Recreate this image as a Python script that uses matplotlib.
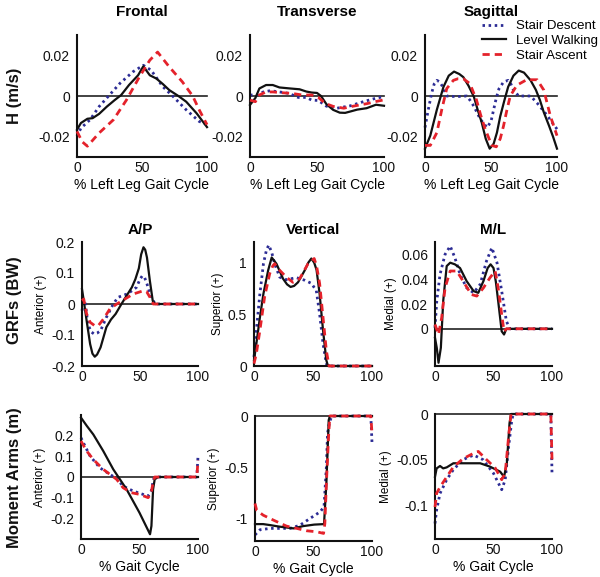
import matplotlib
matplotlib.use("Agg")
import matplotlib.pyplot as plt
from matplotlib.lines import Line2D

plt.rcParams['font.family'] = ['Liberation Sans', 'DejaVu Sans']
plt.rcParams['axes.unicode_minus'] = False

# ---------------- DATA ----------------
# Row 1: H (m/s)
FR_x_desc = [0, 3, 10, 17, 25, 33, 43, 51, 57, 66, 74, 84, 94, 100]
FR_desc = [-0.0198, -0.0158, -0.0117, -0.0052, 0.0005, 0.0062, 0.0119, 0.0151, 0.0127, 0.0046, -0.0003, -0.0068, -0.0125, -0.0141]
FR_x_walk = [0, 3, 8, 12, 17, 23, 29, 34, 40, 47, 51, 56, 61, 66, 71, 78, 84, 92, 100]
FR_walk = [-0.0166, -0.0133, -0.0112, -0.0109, -0.0088, -0.0052, -0.002, 0.0005, 0.0054, 0.0102, 0.0146, 0.0102, 0.0086, 0.0059, 0.0029, 0.0, -0.0028, -0.0085, -0.0153]
FR_x_asc = [0, 4, 8, 17, 28, 38, 48, 56, 62, 71, 81, 89, 94, 100]
FR_asc = [-0.0174, -0.0225, -0.0247, -0.0182, -0.0117, -0.002, 0.0094, 0.0176, 0.0216, 0.0143, 0.007, 0.0, -0.0068, -0.0141]

TR_x_desc = [0, 5, 10, 15, 22, 29, 36, 42, 46, 51, 57, 65, 75, 85, 94, 100]
TR_desc = [0.0005, 0.0005, 0.002, 0.0026, 0.002, 0.0013, -0.0007, -0.0007, -0.002, -0.0022, -0.005, -0.006, -0.0048, -0.0027, -0.0011, -0.0003]
TR_x_walk = [0, 4, 7, 12, 17, 22, 30, 37, 42, 46, 50, 53, 57, 62, 67, 71, 75, 80, 87, 94, 100]
TR_walk = [-0.0044, -0.001, 0.0037, 0.0054, 0.0054, 0.0042, 0.0037, 0.0033, 0.0022, 0.0017, 0.0015, 0.0, -0.004, -0.0068, -0.0082, -0.0083, -0.0076, -0.0067, -0.006, -0.0043, -0.0048]
TR_x_asc = [0, 4, 7, 12, 17, 24, 31, 39, 46, 51, 56, 62, 70, 77, 87, 94, 100]
TR_asc = [-0.002, -0.0028, 0.0005, 0.002, 0.002, 0.0016, 0.0013, 0.0005, 0.0005, -0.0007, -0.0036, -0.0051, -0.006, -0.005, -0.0038, -0.0027, -0.0019]

SG_x_desc = [0, 2.5, 5, 7, 9, 11, 13, 16.5, 24, 31.6, 34, 37, 42, 47, 50, 52, 54, 56, 59.5, 63, 65, 67, 71, 80, 85, 92, 100]
SG_desc = [-0.0155, -0.0067, 0.0013, 0.006, 0.0077, 0.007, 0.005, 0.0, -0.0003, 0.0, -0.002, -0.005, -0.0115, -0.0155, -0.0125, -0.0067, -0.001, 0.0035, 0.0069, 0.0077, 0.006, 0.0029, 0.0, 0.0, -0.0035, -0.0091, -0.0163]
SG_x_walk = [0, 4, 9, 14, 18, 22, 26, 29, 33, 37, 40, 43, 46, 49, 52, 54.5, 57, 60, 63, 67, 71, 75, 80, 84, 87, 90, 94, 97, 100]
SG_walk = [-0.0259, -0.0195, -0.0067, 0.0045, 0.010, 0.012, 0.0108, 0.0093, 0.005, -0.0003, -0.007, -0.0131, -0.021, -0.0259, -0.0235, -0.018, -0.010, -0.0025, 0.0045, 0.010, 0.0125, 0.0115, 0.0077, 0.003, -0.0019, -0.008, -0.0147, -0.020, -0.0259]
SG_x_asc = [0, 4, 9, 12.7, 16.5, 21.5, 25, 29, 34, 39, 42, 45.6, 50.6, 54, 57, 59.5, 62, 64.6, 69.6, 77, 85, 90, 95, 100]
SG_asc = [-0.0243, -0.0243, -0.018, -0.0067, 0.0037, 0.0077, 0.0085, 0.0085, 0.0061, -0.0019, -0.009, -0.0163, -0.0243, -0.025, -0.021, -0.0147, -0.007, 0.0, 0.0053, 0.008, 0.008, 0.0029, -0.0099, -0.0195]

# Row 2: GRFs (BW)
AP_x_desc = [0, 1.5, 3, 5, 8, 10.5, 13, 16, 21, 27, 31, 38.6, 44, 47, 50, 52, 54, 56, 58, 60, 63, 100]
AP_desc = [-0.0215, 0.01, 0.0, -0.065, -0.09, -0.097, -0.094, -0.086, -0.043, 0.0, 0.0215, 0.032, 0.045, 0.054, 0.08, 0.091, 0.085, 0.065, 0.04, 0.0215, 0.0, 0.0]
AP_x_walk = [0, 1.5, 4, 7, 9, 11, 13, 16, 21, 25, 29, 34, 39, 43, 46, 49, 51, 53, 54.5, 56, 58.5, 61, 63, 65, 100]
AP_walk = [0.048, 0.011, -0.054, -0.129, -0.16, -0.17, -0.163, -0.14, -0.075, -0.05, -0.032, 0.0, 0.03, 0.054, 0.08, 0.115, 0.16, 0.183, 0.175, 0.15, 0.075, 0.01, 0.0, 0.0, 0.0]
AP_x_asc = [0, 1.5, 4, 7, 11, 14, 18.6, 24, 30, 37, 44, 49, 53, 55.7, 58.6, 61.4, 100]
AP_asc = [0.011, 0.016, -0.032, -0.059, -0.07, -0.07, -0.048, -0.016, 0.0, 0.016, 0.032, 0.038, 0.043, 0.04, 0.0215, 0.0, 0.0]

VG_x_desc = [0, 2, 5, 8, 10.5, 12.5, 15, 17.5, 21.8, 27.4, 35.9, 43, 48.6, 52.8, 55.6, 58.5, 61.3, 62.5, 100]
VG_desc = [0.087, 0.345, 0.7, 0.99, 1.12, 1.17, 1.1, 0.99, 0.86, 0.835, 0.855, 0.83, 0.8, 0.73, 0.506, 0.216, 0.023, 0.0, 0.0]
VG_x_walk = [0, 2, 5, 8, 12, 15, 19, 24.6, 28, 31, 34, 37.3, 43, 46, 48.6, 51, 53, 55.6, 58.5, 61.3, 62.7, 100]
VG_walk = [0.055, 0.216, 0.47, 0.7, 0.926, 1.05, 0.99, 0.845, 0.79, 0.765, 0.775, 0.81, 0.926, 1.0, 1.04, 1.0, 0.93, 0.7, 0.345, 0.055, 0.0, 0.0]
VG_x_asc = [0, 2, 5, 9, 13.3, 16, 17.5, 21.8, 27.4, 33, 38.7, 45.8, 51, 53, 55.6, 58.5, 61.3, 63.6, 100]
VG_asc = [0.023, 0.12, 0.345, 0.67, 0.894, 0.97, 0.99, 0.926, 0.86, 0.81, 0.845, 0.99, 1.04, 0.97, 0.8, 0.47, 0.15, 0.0, 0.0]

ML_x_desc = [0, 1.5, 4.3, 8.6, 13, 17, 21.4, 27, 33, 38.6, 44, 48.6, 53, 57, 61, 64, 100]
ML_desc = [0.0008, 0.0223, 0.0439, 0.06, 0.0667, 0.0573, 0.0439, 0.0331, 0.029, 0.0358, 0.0546, 0.0654, 0.0533, 0.0304, 0.0062, 0.0, 0.0]
ML_x_walk = [0, 1.5, 3, 5, 7, 10, 13, 17, 21.4, 27, 33, 37, 41.4, 45, 47.5, 50, 52, 54, 57, 59, 61, 100]
ML_walk = [-0.0073, -0.0153, -0.0274, -0.0153, 0.0223, 0.0506, 0.0533, 0.052, 0.049, 0.0385, 0.0304, 0.029, 0.0385, 0.049, 0.052, 0.049, 0.038, 0.0223, -0.002, -0.0046, 0.0, 0.0]
ML_x_asc = [0, 3, 5.7, 8.6, 13, 18.6, 24, 31, 35.7, 41.4, 47, 51.4, 54, 57, 59, 61, 100]
ML_asc = [0.0035, -0.0046, 0.0089, 0.033, 0.0466, 0.0466, 0.0385, 0.0277, 0.0264, 0.033, 0.0412, 0.0466, 0.033, 0.0116, -0.002, 0.0, 0.0]

# Row 3: Moment Arms (m)
MA_x_desc = [0, 2, 7.7, 16, 24.7, 30.4, 36, 44.6, 53, 57.4, 60, 62, 64.5, 99, 100]
MA_desc = [0.19, 0.166, 0.102, 0.045, 0.013, -0.008, -0.044, -0.068, -0.084, -0.092, -0.068, -0.011, 0.0, 0.0, 0.1]
MA_x_walk = [0, 5, 10.5, 19, 27.6, 39, 50, 59, 60.2, 61.6, 63, 66, 100]
MA_walk = [0.287, 0.247, 0.206, 0.126, 0.037, -0.06, -0.173, -0.277, -0.237, -0.06, -0.011, 0.0, 0.0]
MA_x_asc = [0, 4.8, 10.5, 19, 24.7, 30.4, 36, 43, 50, 57.4, 60, 61.6, 63, 99, 100]
MA_asc = [0.174, 0.126, 0.085, 0.037, 0.013, -0.011, -0.052, -0.076, -0.084, -0.1, -0.076, -0.027, 0.0, 0.0, 0.08]

MV_x_desc = [0, 4.3, 13, 21, 30, 38.6, 47, 55.7, 59, 61, 62, 63.7, 65.7, 99, 100]
MV_desc = [-1.16, -1.11, -1.097, -1.097, -1.097, -1.065, -1.0, -0.935, -0.886, -0.5, -0.17, -0.058, 0.0, 0.0, -0.26]
MV_x_walk = [0, 7, 13, 21, 33, 41, 50.6, 59, 61, 63, 64, 100]
MV_walk = [-1.055, -1.055, -1.065, -1.08, -1.097, -1.075, -1.06, -1.055, -0.66, -0.04, 0.0, 0.0]
MV_x_asc = [0, 1.4, 7, 15.7, 27, 35.7, 44, 52.8, 58.6, 59.7, 61, 63, 64, 99, 100]
MV_asc = [-0.854, -0.919, -0.968, -1.016, -1.075, -1.097, -1.12, -1.13, -1.146, -1.05, -0.66, -0.17, 0.0, 0.0, -0.17]

MM_x_desc = [0, 1.4, 4.3, 10, 15.7, 24, 33, 41, 50, 57, 60, 62.9, 65.7, 67, 99, 100]
MM_desc = [-0.12, -0.105, -0.087, -0.072, -0.061, -0.05, -0.045, -0.05, -0.065, -0.083, -0.072, -0.036, -0.006, 0.0, 0.0, -0.065]
MM_x_walk = [0, 1.4, 4.3, 7, 10, 15.7, 24, 38.6, 47, 55.7, 59, 61.4, 63.7, 65, 100]
MM_walk = [-0.0688, -0.0596, -0.057, -0.0596, -0.0585, -0.054, -0.054, -0.054, -0.0577, -0.0632, -0.0688, -0.054, -0.01, 0.0, 0.0]
MM_x_asc = [0, 1.4, 4.3, 10, 15.7, 24, 33, 37, 44, 51.4, 57, 60, 62.9, 65, 99, 100]
MM_asc = [-0.102, -0.087, -0.08, -0.069, -0.058, -0.049, -0.043, -0.041, -0.05, -0.059, -0.072, -0.065, -0.025, 0.0, 0.0, -0.05]

series_names = ["Stair Descent", "Level Walking", "Stair Ascent"]
x_ticks = [0, 50, 100]

# ---------------- STYLE ----------------
W, H = 600, 577
BLUE = '#2c2c95'
BLACK = '#111111'
RED = '#e4222b'
sty_desc = dict(color=BLUE, lw=2.0, linestyle=(0, (0.9, 1.3)))
sty_walk = dict(color=BLACK, lw=1.6, linestyle='-')
sty_asc = dict(color=RED, lw=2.0, linestyle=(0, (2.6, 1.8)))

fig = plt.figure(figsize=(W / 100, H / 100), dpi=100)


def make_ax(x0, x1, y0, y1):
    return fig.add_axes([x0 / W, 1 - y1 / H, (x1 - x0) / W, (y1 - y0) / H])


def fmt(v):
    return ('%g' % v)


def panel(box, data, ylim, yticks, title=None, xlabel=None, ylabel=None,
          title_pad=5, title_size=11):
    ax = make_ax(*box)
    (xd, yd), (xw, yw), (xa, ya) = data
    ax.axhline(0, color='#222222', lw=1.2, zorder=1, clip_on=False)
    ax.plot(xd, yd, **sty_desc, zorder=2, clip_on=False)
    ax.plot(xw, yw, **sty_walk, zorder=3, clip_on=False)
    ax.plot(xa, ya, **sty_asc, zorder=4, clip_on=False)
    ax.set_xlim(0, 100)
    ax.set_ylim(*ylim)
    ax.set_xticks(x_ticks)
    ax.set_xticklabels([fmt(v) for v in x_ticks])
    ax.set_yticks(yticks)
    ax.set_yticklabels([fmt(v) for v in yticks])
    for s in ['top', 'right']:
        ax.spines[s].set_visible(False)
    for s in ['left', 'bottom']:
        ax.spines[s].set_linewidth(1.5)
        ax.spines[s].set_color('#111111')
    ax.tick_params(length=0, labelsize=10, colors='#111111')
    ax.tick_params(axis='x', pad=3)
    ax.tick_params(axis='y', pad=5)
    ax.patch.set_alpha(0)
    if title:
        ax.set_title(title, fontsize=title_size, fontweight='bold', pad=title_pad)
    if xlabel:
        ax.set_xlabel(xlabel, fontsize=10, labelpad=2)
    if ylabel:
        ax.set_ylabel(ylabel, fontsize=8.5, labelpad=3)
    return ax


# Row 1
top_lim = (-0.03, 0.03)
top_ticks = [-0.02, 0, 0.02]
xl1 = "% Left Leg Gait Cycle"
panel((77, 207, 35, 157), [(FR_x_desc, FR_desc), (FR_x_walk, FR_walk), (FR_x_asc, FR_asc)],
      top_lim, top_ticks, title="Frontal", xlabel=xl1, title_pad=14)
panel((250, 384, 35, 157), [(TR_x_desc, TR_desc), (TR_x_walk, TR_walk), (TR_x_asc, TR_asc)],
      top_lim, top_ticks, title="Transverse", xlabel=xl1, title_pad=14)
panel((425, 557, 35, 157), [(SG_x_desc, SG_desc), (SG_x_walk, SG_walk), (SG_x_asc, SG_asc)],
      top_lim, top_ticks, title="Sagittal", xlabel=xl1, title_pad=14)

# Row 2
panel((82, 198, 242, 366), [(AP_x_desc, AP_desc), (AP_x_walk, AP_walk), (AP_x_asc, AP_asc)],
      (-0.2, 0.2), [-0.2, -0.1, 0, 0.1, 0.2], title="A/P", ylabel="Anterior (+)", title_pad=6)
panel((254, 372, 242, 366), [(VG_x_desc, VG_desc), (VG_x_walk, VG_walk), (VG_x_asc, VG_asc)],
      (0, 1.2), [0, 0.5, 1], title="Vertical", ylabel="Superior (+)", title_pad=6)
panel((435, 552, 242, 366), [(ML_x_desc, ML_desc), (ML_x_walk, ML_walk), (ML_x_asc, ML_asc)],
      (-0.03, 0.07), [0, 0.02, 0.04, 0.06], title="M/L", ylabel="Medial (+)", title_pad=6)

# Row 3
xl3 = "% Gait Cycle"
panel((81, 198, 415, 539), [(MA_x_desc, MA_desc), (MA_x_walk, MA_walk), (MA_x_asc, MA_asc)],
      (-0.3, 0.3), [-0.2, -0.1, 0, 0.1, 0.2], xlabel=xl3, ylabel="Anterior (+)")
panel((255, 372, 416, 541), [(MV_x_desc, MV_desc), (MV_x_walk, MV_walk), (MV_x_asc, MV_asc)],
      (-1.22, 0), [-1, -0.5, 0], xlabel=xl3, ylabel="Superior (+)")
panel((435, 552, 414, 539), [(MM_x_desc, MM_desc), (MM_x_walk, MM_walk), (MM_x_asc, MM_asc)],
      (-0.137, 0), [-0.1, -0.05, 0], xlabel=xl3, ylabel="Medial (+)")

# Row labels
for txt, yc in [("H (m/s)", 96), ("GRFs (BW)", 300), ("Moment Arms (m)", 478)]:
    fig.text(15 / W, 1 - yc / H, txt, rotation=90, ha='center', va='center',
             fontsize=12, fontweight='bold', color='#111111')

# Legend
handles = [Line2D([], [], **sty_desc), Line2D([], [], **sty_walk), Line2D([], [], **sty_asc)]
fig.legend(handles, series_names, loc='upper left', bbox_to_anchor=(482 / W, 1 - 20 / H),
           frameon=False, fontsize=9.5, handlelength=1.8, handletextpad=0.75,
           labelspacing=0.2, borderpad=0, borderaxespad=0)

fig.savefig("out.png", dpi=100)
